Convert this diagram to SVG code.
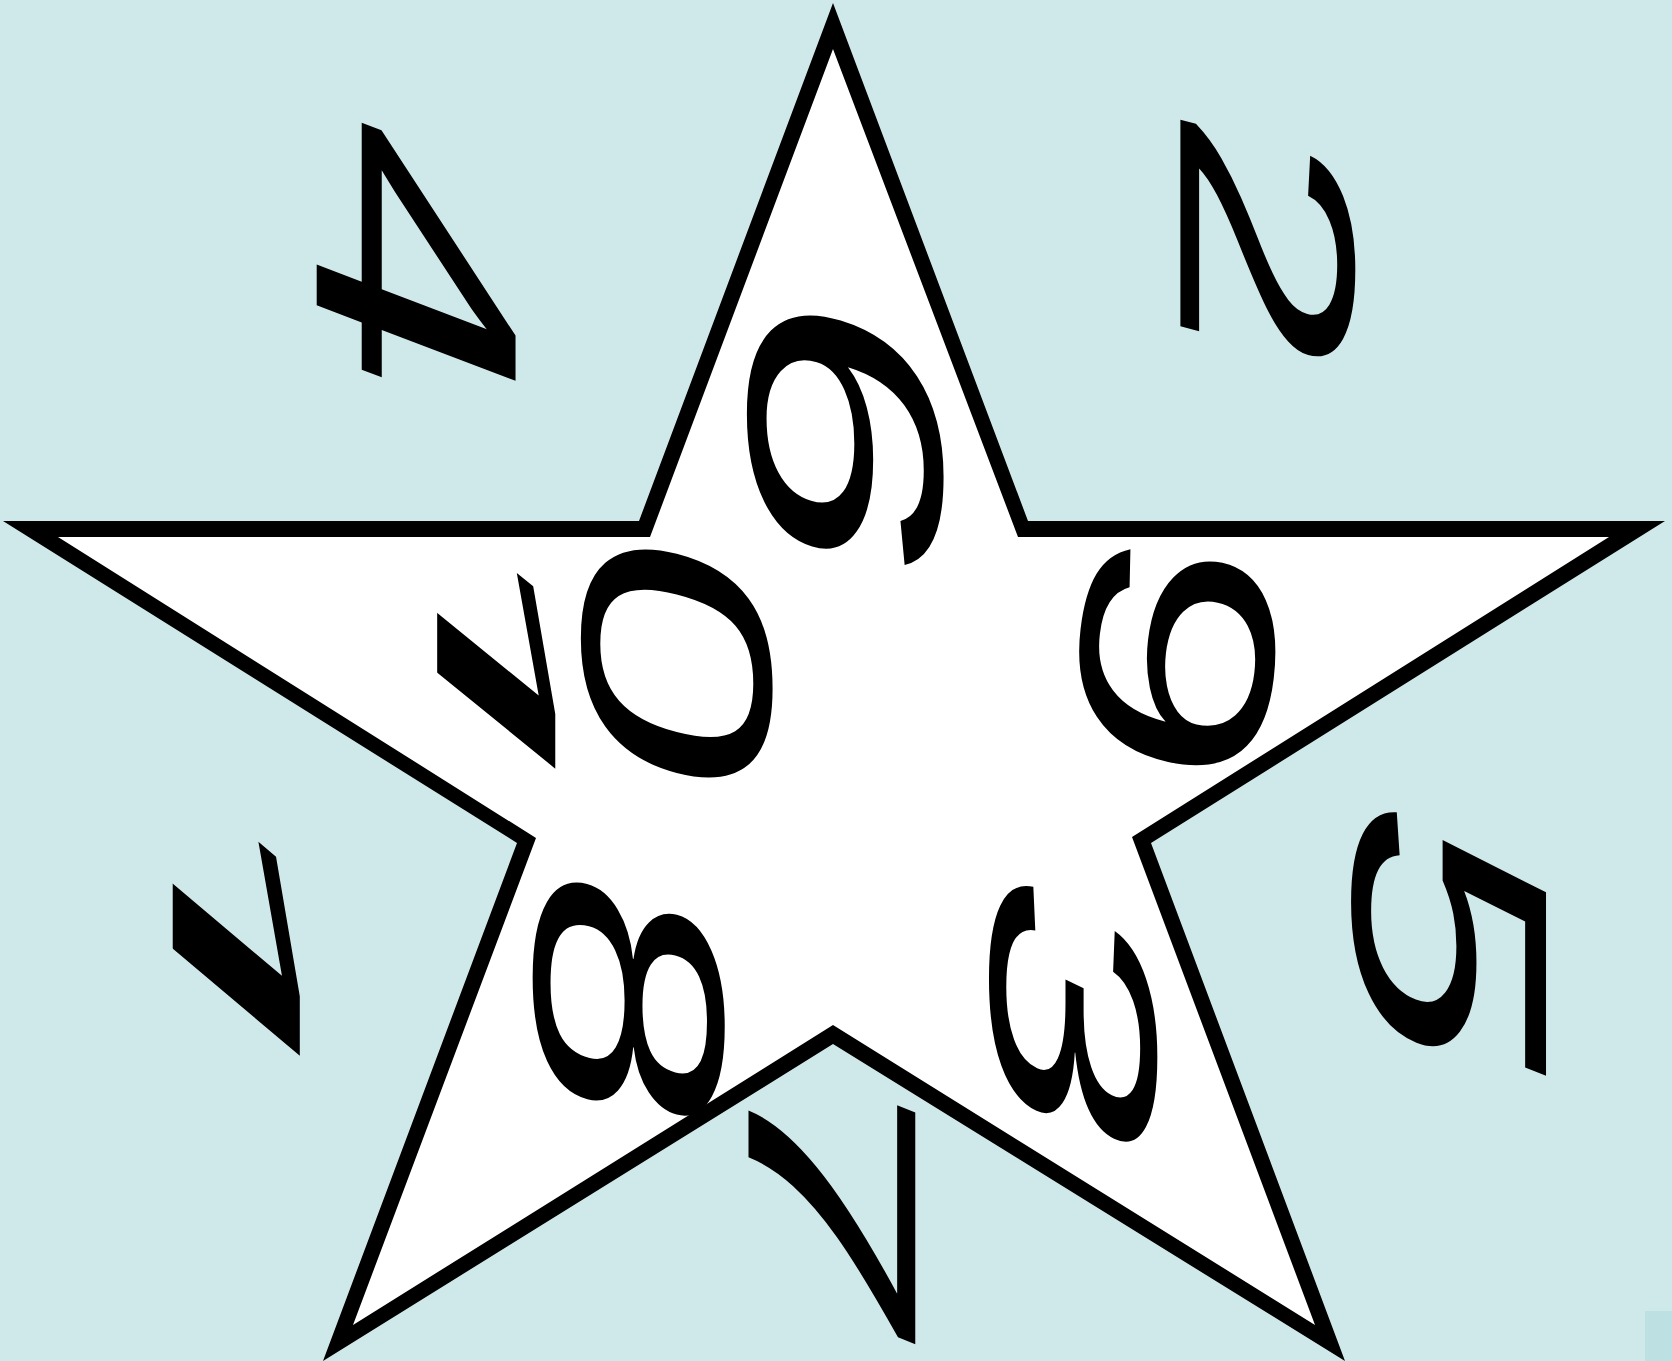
<svg xmlns="http://www.w3.org/2000/svg" width="1672" height="1361" viewBox="0 0 1672 1361">
<style>
.d{font-family:"Liberation Sans",Arial,sans-serif;font-size:100px;fill:#000}
</style>
<defs>
<clipPath id="nofoot" clipPathUnits="userSpaceOnUse"><rect x="-50" y="-150" width="200" height="141"/></clipPath>
</defs>
<rect width="1672" height="1361" fill="#cfe9ea"/>
<rect x="1645" y="1311" width="27" height="50" fill="#bde0e3"/>
<g id="star">
<polygon points="833,3 1028,521 1665,521 1151,843 1345,1361 833,1044 323,1361 517,843 3,521 639,521" fill="#000"/>
<polygon points="833,49 1018,537 1609,537 1132,837 1315,1325 833,1025 353,1325 536,838 58,537 650,537" fill="#fff"/>
</g>
<g id="n4"><text class="d" transform="matrix(0,4.9,-2.89,-1.098,316.7,94.5)">4</text></g>
<g id="n2"><text class="d" transform="matrix(0,4.534,-2.505,-0.66,1180.4,96.9)">2</text></g>
<g id="n6"><text class="d" transform="matrix(0,5.086,-2.778,-0.845,749.6,267)">6</text></g>
<g id="n9"><text class="d" transform="matrix(-0.53,4.45,-2.74,-0.6,1097,514)">9</text></g>
<g id="n5"><text class="d" transform="matrix(0,4.692,-2.794,-1.12,1353.8,776.3)">5</text></g>
<g id="n7"><text class="d" transform="matrix(0,5.097,-2.424,-0.969,748.5,1019.7)">7</text></g>
<g id="n8"><text class="d" transform="matrix(0,4.585,-2.713,-0.704,535.3,850.7)">8</text></g>
<g id="n3"><text class="d" transform="matrix(0,4.692,-2.378,-1.13,991.3,849)">3</text></g>
<g id="n1"><text class="d" clip-path="url(#nofoot)" transform="matrix(0,7.347,-2.125,-1.794,153.6,682.7)">1</text></g>
<g id="n10">
<text class="d" clip-path="url(#nofoot)" transform="matrix(0,6.75,-1.975,-1.607,419.4,428.7)">1</text>
<text class="d" transform="matrix(0,4.585,-2.708,-0.693,583.5,512)">0</text>
</g>
</svg>
